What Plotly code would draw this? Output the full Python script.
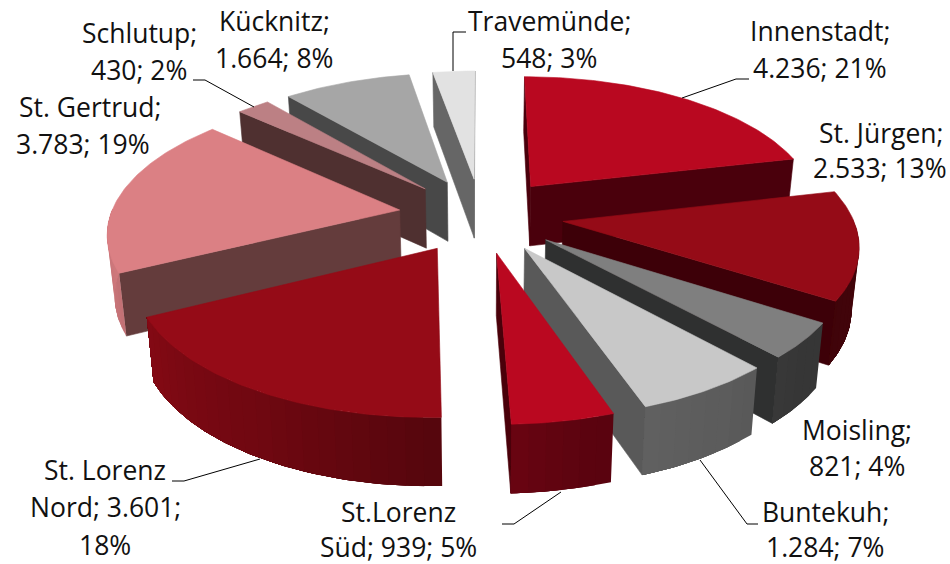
import numpy as np
import plotly.graph_objects as go

# ---- data -------------------------------------------------------------
districts = ["Innenstadt", "St. Jürgen", "Moisling", "Buntekuh", "St.Lorenz Süd",
             "St. Lorenz Nord", "St. Gertrud", "Schlutup", "Kücknitz", "Travemünde"]
values = [4236, 2533, 821, 1284, 939, 3601, 3783, 430, 1664, 548]
top_colors = ["#B90820", "#950B17", "#7F7F7F", "#C8C8C8", "#BA0820",
              "#950B17", "#DB8084", "#BC8084", "#A6A6A6", "#E2E2E2"]
side_colors = ["#4A000C", "#3D0008", "#2F3030", "#595959", "#4A000A",
               "#5A030D", "#643C3C", "#4F3030", "#484848", "#666666"]

# label lines: text, centre x, centre y
label_lines = [
    ("Innenstadt;", 820, 31), ("4.236; 21%", 820, 68),
    ("St. Jürgen;", 881, 133), ("2.533; 13%", 880, 168),
    ("Moisling;", 857, 430), ("821; 4%", 857, 466),
    ("Buntekuh;", 825, 512), ("1.284; 7%", 825, 547),
    ("St.Lorenz", 398, 512), ("Süd; 939; 5%", 398, 547),
    ("St. Lorenz", 105, 470), ("Nord; 3.601;", 105, 507), ("18%", 105, 545),
    ("St. Gertrud;", 90, 107), ("3.783; 19%", 83, 144),
    ("Schlutup;", 139, 33), ("430; 2%", 139, 70),
    ("Kücknitz;", 274, 21), ("1.664; 8%", 274, 58),
    ("Travemünde;", 549, 21), ("548; 3%", 549, 58),
]
leader_x = [[682, 736, 749], [193, 205, 254], [453, 453, 466], [172, 184, 260],
            [502, 514, 561], [758, 747, 700]]
leader_y = [[98, 79, 79], [80, 80, 107], [71, 32, 32], [481, 481, 459],
            [524, 524, 492], [524, 524, 460]]

# ---- projection constants ----------------------------------------------
CX, HORIZON, SCALE_Y, PERSP, F = 481.0, -700.0, 915.0, 0.146, 289.0
EXPLODE = 0.28
EXPLODE_X = 1.02
WALL_THETA = [90, 110, 130, 145, 165, 180, 210, 250, 270]
WALL_FACT = [0.42, 0.44, 0.43, 0.46, 0.49, 0.58, 0.75, 0.91, 0.95]


def project(X, Y, bottom=False):
    w = 1 + PERSP * Y
    x = CX + F * X / w
    y = HORIZON + SCALE_Y / w
    if bottom:
        x = CX + (x - CX) * 0.98
        y = y + 22.4 + 38.0 / w
    return x, y


def hex2rgb(c):
    return np.array([int(c[i:i + 2], 16) for i in (1, 3, 5)], float)


def shade(c, k):
    r = np.clip(hex2rgb(c) * k, 0, 255).astype(int)
    return f"rgb({r[0]},{r[1]},{r[2]})"


fig = go.Figure()


def poly(xs, ys, color, width=0.6):
    fig.add_trace(go.Scatter(x=list(xs), y=list(ys), mode="lines", fill="toself",
                             fillcolor=color, line=dict(color=color, width=width),
                             hoverinfo="skip", showlegend=False))


def area(pts):
    s = 0
    for i in range(len(pts)):
        a, b = pts[i], pts[(i + 1) % len(pts)]
        s += a[0] * b[1] - b[0] * a[1]
    return s


fractions = np.array(values, float) / sum(values)
ends = np.cumsum(fractions) * 360
starts = ends - fractions * 360
slices = []
for i in range(len(values)):
    mid = np.radians((starts[i] + ends[i]) / 2)
    slices.append((EXPLODE * np.cos(mid), i, EXPLODE * EXPLODE_X * np.sin(mid)))
slices.sort(key=lambda s: -s[0])

BAND = 3  # degrees per shading band on the outer wall

for ty, i, tx in slices:
    a0, a1 = starts[i], ends[i]
    ang = np.linspace(a0, a1, max(int((a1 - a0) / 1.0) + 2, 3))
    ox = tx + np.sin(np.radians(ang))
    oy = ty + np.cos(np.radians(ang))
    # radial faces
    for a, sign in ((a0, -1), (a1, 1)):
        ex = tx + np.sin(np.radians(a))
        ey = ty + np.cos(np.radians(a))
        pts = [project(tx, ty), project(ex, ey), project(ex, ey, True), project(tx, ty, True)]
        if area(pts) * sign > 0:
            poly([p[0] for p in pts] + [pts[0][0]], [p[1] for p in pts] + [pts[0][1]], side_colors[i])
    # outer wall: each band runs to the end of the wall, the next one paints over it (no seams)
    vis = np.where(np.cos(np.radians(ang)) <= 0.02)[0]
    if len(vis) > 1:
        v0 = vis[0]
        v1 = vis[-1]
        while v0 < v1:
            stop = min(v1, v0 + BAND)
            th = (ang[v0] + ang[stop]) / 2
            k = np.interp(th, WALL_THETA, WALL_FACT)
            tx_, ty_ = project(ox[v0:v1 + 1], oy[v0:v1 + 1])
            bx_, by_ = project(ox[v0:v1 + 1], oy[v0:v1 + 1], True)
            poly([*tx_, *bx_[::-1], tx_[0]], [*ty_, *by_[::-1], ty_[0]], shade(top_colors[i], k), 0)
            v0 = stop
    # top
    tipx, tipy = project(tx, ty)
    px, py = project(ox, oy)
    poly([tipx, *px, tipx], [tipy, *py, tipy], top_colors[i])

for lx, ly in zip(leader_x, leader_y):
    fig.add_trace(go.Scatter(x=lx, y=ly, mode="lines", line=dict(color="#000000", width=1),
                             hoverinfo="skip", showlegend=False))

for text, x, y in label_lines:
    fig.add_annotation(x=x, y=y, text=text, showarrow=False, xanchor="center", yanchor="middle",
                       font=dict(family="Open Sans", size=26.5, color="#111111"))

fig.update_layout(width=950, height=564, margin=dict(l=0, r=0, t=0, b=0),
                  paper_bgcolor="white", plot_bgcolor="white", showlegend=False,
                  xaxis=dict(range=[0, 950], visible=False, fixedrange=True),
                  yaxis=dict(range=[564, 0], visible=False, fixedrange=True))
fig.write_html("out.html", config={"displayModeBar": False},
               post_script="document.body.style.margin='0';")
